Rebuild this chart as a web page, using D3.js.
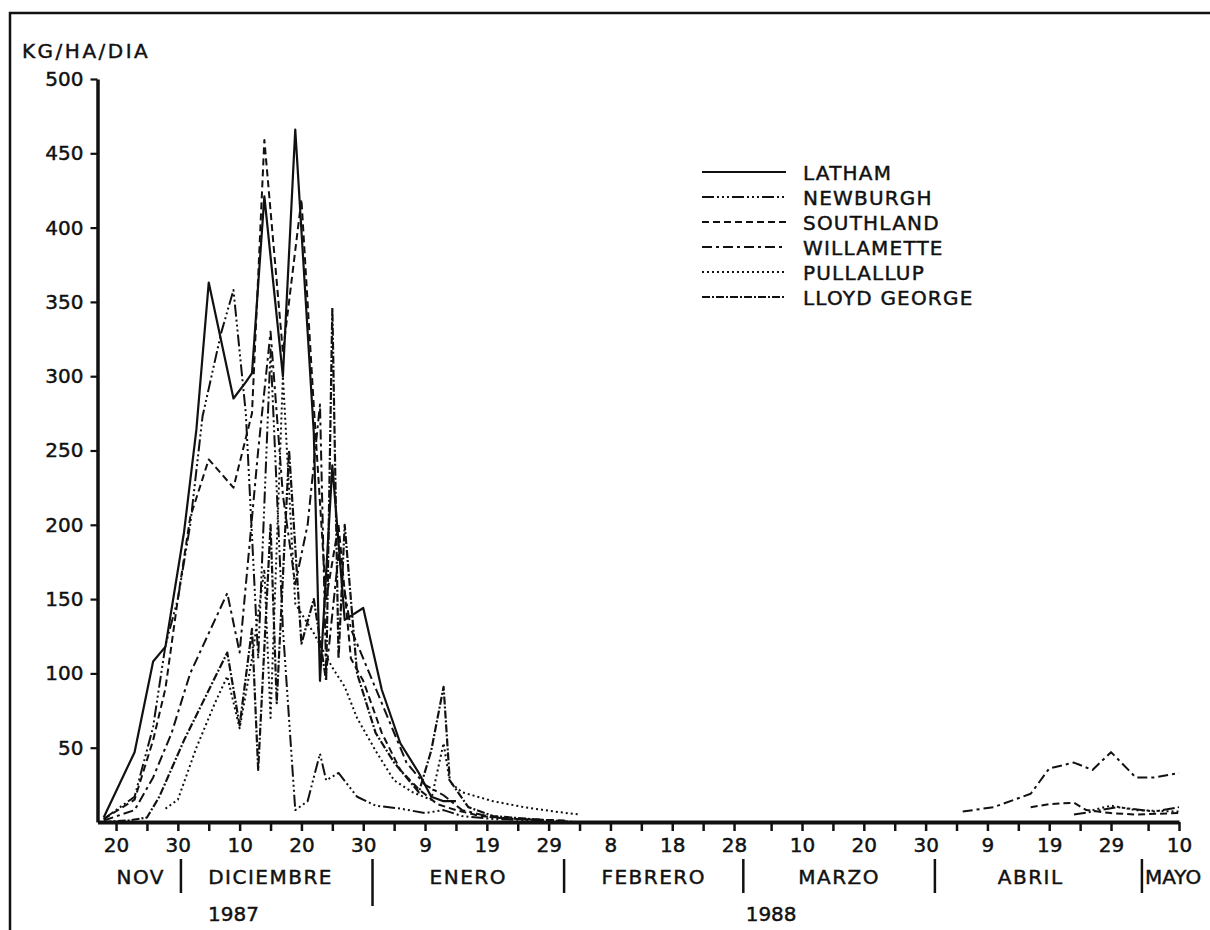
<!DOCTYPE html>
<html>
<head>
<meta charset="utf-8">
<script src="https://cdn.jsdelivr.net/npm/d3@7"></script>
<style>
  body { margin: 0; background: #fff; }
  text { font-family: "DejaVu Sans", sans-serif; fill: #111; stroke: #111; stroke-width: 0.45px; }
</style>
</head>
<body>
<div id="container"></div>
<script>
/* DATA */
const seriesNames = ["LATHAM", "NEWBURGH", "SOUTHLAND", "WILLAMETTE", "PULLALLUP", "LLOYD GEORGE"];

const latham = [
  ["1987-11-18", 3], ["1987-11-23", 47], ["1987-11-26", 108], ["1987-11-28", 118], ["1987-12-01", 195],
  ["1987-12-03", 264], ["1987-12-05", 363], ["1987-12-09", 285], ["1987-12-11", 296], ["1987-12-12", 302],
  ["1987-12-14", 421], ["1987-12-17", 300], ["1987-12-19", 466], ["1987-12-22", 262], ["1987-12-23", 95],
  ["1987-12-25", 240], ["1987-12-27", 136], ["1987-12-30", 144], ["1988-01-02", 89], ["1988-01-05", 53],
  ["1988-01-08", 33], ["1988-01-10", 17], ["1988-01-12", 14], ["1988-01-14", 14]
];
const newburgh = [
  ["1987-11-18", 2], ["1987-11-23", 17], ["1987-11-26", 64], ["1987-11-28", 119], ["1987-11-30", 150],
  ["1987-12-02", 200], ["1987-12-04", 273], ["1987-12-07", 329], ["1987-12-09", 358], ["1987-12-11", 275],
  ["1987-12-13", 110], ["1987-12-15", 318], ["1987-12-17", 130], ["1987-12-19", 8], ["1987-12-21", 14],
  ["1987-12-23", 46], ["1987-12-24", 28], ["1987-12-26", 33], ["1987-12-29", 17], ["1988-01-01", 11],
  ["1988-01-05", 9], ["1988-01-09", 6], ["1988-01-12", 8], ["1988-01-15", 4], ["1988-01-20", 2],
  ["1988-01-28", 1], ["1988-03-01", null],
  ["1988-04-23", 5], ["1988-04-26", 7], ["1988-04-30", 10], ["1988-05-06", 7], ["1988-05-10", 10]
];
const southland = [
  ["1987-11-18", 2], ["1987-11-23", 15], ["1987-11-26", 55], ["1987-11-28", 90], ["1987-11-30", 150],
  ["1987-12-02", 205], ["1987-12-05", 244], ["1987-12-09", 225], ["1987-12-12", 275], ["1987-12-14", 459],
  ["1987-12-17", 316], ["1987-12-20", 419], ["1987-12-22", 280], ["1987-12-24", 150], ["1987-12-26", 200],
  ["1987-12-28", 110], ["1987-12-30", 95], ["1988-01-02", 60], ["1988-01-05", 35], ["1988-01-08", 22],
  ["1988-01-11", 12], ["1988-01-14", 8], ["1988-01-18", 4], ["1988-01-24", 2], ["1988-02-01", 1],
  ["1988-03-01", null],
  ["1988-04-16", 10], ["1988-04-19", 12], ["1988-04-23", 13], ["1988-04-25", 8], ["1988-04-29", 6],
  ["1988-05-03", 5], ["1988-05-10", 6]
];
const willamette = [
  ["1987-11-18", 1], ["1987-11-23", 8], ["1987-11-26", 30], ["1987-11-29", 60], ["1987-12-02", 100],
  ["1987-12-08", 154], ["1987-12-10", 114], ["1987-12-13", 250], ["1987-12-15", 330], ["1987-12-17", 220],
  ["1987-12-19", 160], ["1987-12-21", 200], ["1987-12-23", 281], ["1987-12-24", 100], ["1987-12-26", 180],
  ["1987-12-28", 130], ["1987-12-31", 100], ["1988-01-03", 70], ["1988-01-06", 40], ["1988-01-09", 25],
  ["1988-01-12", 18], ["1988-01-15", 8], ["1988-01-20", 3], ["1988-01-28", 1], ["1988-03-01", null],
  ["1988-04-05", 7], ["1988-04-10", 10], ["1988-04-16", 19], ["1988-04-19", 36], ["1988-04-23", 40],
  ["1988-04-26", 35], ["1988-04-29", 47], ["1988-05-03", 30], ["1988-05-06", 30], ["1988-05-10", 33]
];
const pullallup = [
  ["1987-11-28", 9], ["1987-11-30", 15], ["1987-12-03", 50], ["1987-12-06", 80], ["1987-12-08", 98],
  ["1987-12-10", 63], ["1987-12-12", 110], ["1987-12-14", 170], ["1987-12-15", 70], ["1987-12-17", 300],
  ["1987-12-19", 147], ["1987-12-22", 127], ["1987-12-25", 104], ["1987-12-27", 91], ["1987-12-29", 70],
  ["1988-01-01", 48], ["1988-01-04", 28], ["1988-01-07", 20], ["1988-01-10", 15], ["1988-01-12", 53],
  ["1988-01-13", 27], ["1988-01-15", 20], ["1988-01-20", 14], ["1988-01-25", 10], ["1988-01-30", 7],
  ["1988-02-03", 5], ["1988-03-01", null],
  ["1988-04-26", 8], ["1988-04-29", 11], ["1988-05-03", 8], ["1988-05-10", 7]
];
const lloydGeorge = [
  ["1987-11-18", 0], ["1987-11-22", 1], ["1987-11-25", 3], ["1987-11-27", 17], ["1987-12-01", 55],
  ["1987-12-08", 114], ["1987-12-10", 65], ["1987-12-12", 130], ["1987-12-13", 35], ["1987-12-15", 200],
  ["1987-12-16", 80], ["1987-12-18", 250], ["1987-12-20", 120], ["1987-12-22", 150], ["1987-12-24", 95],
  ["1987-12-25", 346], ["1987-12-26", 110], ["1987-12-27", 200], ["1987-12-29", 100], ["1988-01-01", 60],
  ["1988-01-04", 40], ["1988-01-08", 20], ["1988-01-10", 48], ["1988-01-12", 91], ["1988-01-13", 28],
  ["1988-01-16", 10], ["1988-01-20", 4], ["1988-01-26", 2], ["1988-02-02", 0]
];

const yTicks = [50, 100, 150, 200, 250, 300, 350, 400, 450, 500];
// labelled ticks every ~10 days, unlabelled ones in between
const labelTicks = ["1987-11-20", "1987-11-30", "1987-12-10", "1987-12-20", "1987-12-30", "1988-01-09",
  "1988-01-19", "1988-01-29", "1988-02-08", "1988-02-18", "1988-02-28", "1988-03-10", "1988-03-20",
  "1988-03-30", "1988-04-09", "1988-04-19", "1988-04-29", "1988-05-10"];
const minorTicks = ["1987-11-25", "1987-12-05", "1987-12-15", "1987-12-25", "1988-01-04", "1988-01-14",
  "1988-01-24", "1988-02-03", "1988-02-13", "1988-02-23", "1988-03-05", "1988-03-15", "1988-03-25",
  "1988-04-04", "1988-04-14", "1988-04-24", "1988-05-05"];
const months = ["NOV", "DICIEMBRE", "ENERO", "FEBRERO", "MARZO", "ABRIL", "MAYO"];
const monthCentres = ["1987-11-24", "1987-12-15", "1988-01-16", "1988-02-15", "1988-03-16", "1988-04-16", "1988-05-04"];
const monthBreaks = ["1987-11-30T12:00", "1987-12-31T12:00", "1988-01-31T12:00", "1988-02-29T12:00", "1988-03-31T12:00", "1988-05-04"];
const years = ["1987", "1988"];
const yearCentres = ["1987-12-09", "1988-03-05"];

/* CONSTANTS */
const width = 1210, height = 930;
const fontSize = 20;
const parse = d3.timeParse("%Y-%m-%d");
const parseAny = s => s.length > 10 ? d3.timeParse("%Y-%m-%dT%H:%M")(s) : parse(s);

const x = d3.scaleTime()
  .domain([parse("1987-11-17"), parse("1988-05-10")])
  .range([97.5, 1179]);
const y = d3.scaleLinear().domain([0, 500]).range([822, 79]);

const styles = {
  "LATHAM": { dash: null, w: 2.2 },
  "NEWBURGH": { dash: "12,3,2,3,2,3,2,3", w: 2 },
  "SOUTHLAND": { dash: "7,4", w: 2 },
  "WILLAMETTE": { dash: "10,4,3,4", w: 2 },
  "PULLALLUP": { dash: "2,3", w: 2 },
  "LLOYD GEORGE": { dash: "8,2,2,2", w: 2.2 }
};
const allSeries = [latham, newburgh, southland, willamette, pullallup, lloydGeorge];

const svg = d3.select("#container").append("svg")
  .attr("width", width).attr("height", height);

// frame
svg.append("rect")
  .attr("x", 10).attr("y", 13).attr("width", 1230).attr("height", 940)
  .attr("fill", "none").attr("stroke", "#111").attr("stroke-width", 2.5);

// Y AXIS
const yAxis = svg.append("g")
  .attr("transform", `translate(${x(parse("1987-11-17"))},0)`)
  .call(d3.axisLeft(y).tickValues(yTicks).tickSize(7).tickSizeOuter(0).tickPadding(7).tickFormat(d3.format("d")));
yAxis.select(".domain").attr("stroke-width", 3.5).attr("stroke", "#111");
yAxis.selectAll(".tick line").attr("stroke-width", 2.2).attr("stroke", "#111");
yAxis.selectAll(".tick text").attr("font-size", fontSize).attr("font-family", "DejaVu Sans").attr("fill", "#111");

// X AXIS
const labelSet = new Set(labelTicks.map(d => +parse(d)));
const xAxis = svg.append("g")
  .attr("transform", `translate(0,${y(0)})`)
  .call(d3.axisBottom(x)
    .tickValues(labelTicks.concat(minorTicks).map(parse))
    .tickSize(9).tickSizeOuter(0).tickPadding(7)
    .tickFormat(d => labelSet.has(+d) ? d.getDate() : ""));
xAxis.select(".domain").attr("stroke-width", 4).attr("stroke", "#111");
xAxis.selectAll(".tick line").attr("stroke-width", 2.5).attr("stroke", "#111");
xAxis.selectAll(".tick text").attr("font-size", fontSize).attr("font-family", "DejaVu Sans").attr("fill", "#111");

// month separators and names
svg.selectAll(".mbreak").data(monthBreaks).join("line")
  .attr("class", "mbreak")
  .attr("x1", d => x(parseAny(d))).attr("x2", d => x(parseAny(d)))
  .attr("y1", 859).attr("y2", (d, i) => i === 1 ? 906 : 893)
  .attr("stroke", "#111").attr("stroke-width", 2.5);

svg.selectAll(".month").data(months).join("text")
  .attr("class", "month")
  .attr("x", (d, i) => x(parse(monthCentres[i])) + (d === "MAYO" ? 3 : 0))
  .attr("y", 884)
  .attr("text-anchor", d => d === "MAYO" ? "start" : "middle")
  .attr("font-size", fontSize)
  .attr("letter-spacing", d => d === "MAYO" ? 0 : 1.5)
  .text(d => d);

svg.selectAll(".year").data(years).join("text")
  .attr("class", "year")
  .attr("x", (d, i) => x(parse(yearCentres[i])))
  .attr("y", 921)
  .attr("text-anchor", "middle")
  .attr("font-size", fontSize)
  .text(d => d);

// y title
svg.append("text")
  .attr("x", 22).attr("y", 58)
  .attr("font-size", fontSize).attr("letter-spacing", 2.5)
  .text("KG/HA/DIA");

// LINES
const line = d3.line()
  .defined(d => d[1] != null)
  .x(d => x(parse(d[0])))
  .y(d => y(d[1]));

svg.selectAll(".series").data(allSeries).join("path")
  .attr("class", "series")
  .attr("d", d => line(d))
  .attr("fill", "none")
  .attr("stroke", "#111")
  .attr("stroke-width", (d, i) => styles[seriesNames[i]].w)
  .attr("stroke-dasharray", (d, i) => styles[seriesNames[i]].dash)
  .attr("stroke-linejoin", "round");

// LEGEND
const legend = svg.append("g").attr("transform", "translate(702,172)");
const rows = legend.selectAll("g").data(seriesNames).join("g")
  .attr("transform", (d, i) => `translate(0,${i * 25})`);
rows.append("line")
  .attr("x1", 0).attr("x2", 84).attr("y1", 0).attr("y2", 0)
  .attr("stroke", "#111")
  .attr("stroke-width", d => styles[d].w)
  .attr("stroke-dasharray", d => styles[d].dash);
rows.append("text")
  .attr("x", 101).attr("y", 7.5)
  .attr("font-size", fontSize).attr("letter-spacing", 1.2)
  .text(d => d);
</script>
</body>
</html>
